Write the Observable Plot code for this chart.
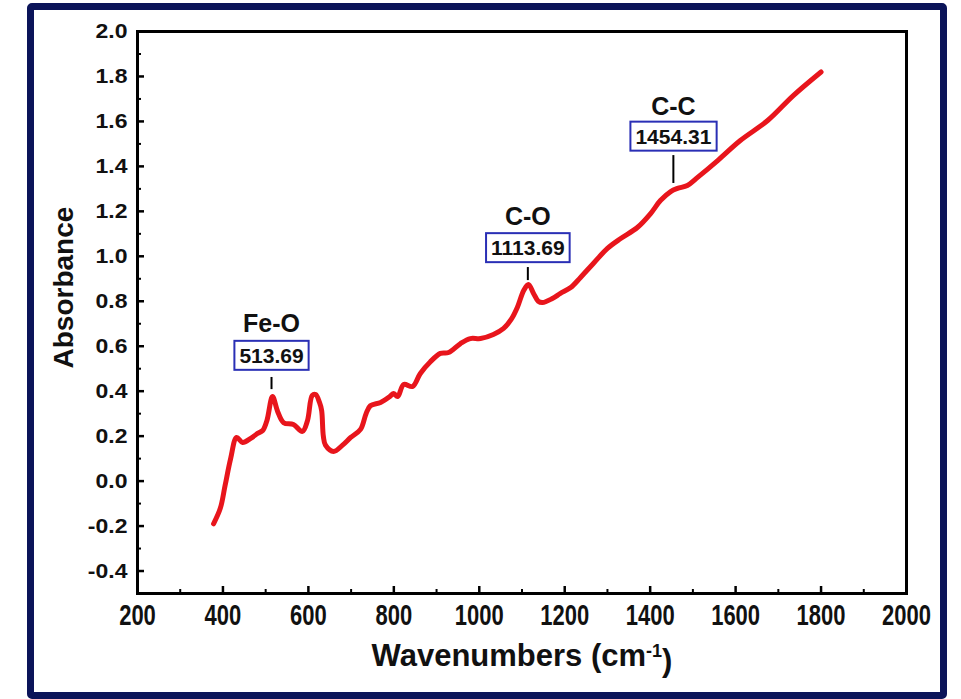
<!DOCTYPE html>
<html><head><meta charset="utf-8">
<script src="https://cdn.jsdelivr.net/npm/d3@7"></script>
<script src="https://cdn.jsdelivr.net/npm/@observablehq/plot@0.6"></script>
<style>
body{margin:0;background:#fff;}
#wrap{position:relative;width:961px;height:699px;overflow:hidden;}
#chart{position:absolute;left:0;top:0;width:961px;}
#border{position:absolute;left:27px;top:3px;width:920px;height:696px;box-sizing:border-box;border:7px solid #0b1459;border-radius:5px;pointer-events:none;}
</style></head><body>
<div id="wrap"><div id="chart"></div><div id="border"></div></div>
<script>
// Spectrum values
const wavenumber = [378,394,405,418,432,446,465,481,493,503,516,528,542,565,586,598,609,617,626,631,635,640,659,680,699,722,735,745,769,790,799,809,823,844,862,885,909,928,956,979,1003,1033,1057,1075,1089,1104,1115,1127,1138,1148,1171,1190,1214,1237,1267,1300,1331,1370,1401,1424,1448,1464,1487,1511,1558,1611,1675,1735,1800];
const absorbance = [-0.19,-0.12,-0.02,0.10,0.194,0.172,0.19,0.212,0.225,0.27,0.376,0.31,0.26,0.252,0.221,0.27,0.381,0.385,0.35,0.314,0.20,0.16,0.132,0.16,0.194,0.23,0.30,0.335,0.350,0.375,0.390,0.376,0.430,0.421,0.479,0.53,0.568,0.572,0.612,0.634,0.634,0.652,0.679,0.72,0.772,0.848,0.875,0.835,0.80,0.794,0.812,0.835,0.861,0.906,0.968,1.035,1.079,1.128,1.190,1.248,1.288,1.302,1.315,1.351,1.426,1.515,1.604,1.715,1.82];

// Axis ticks
const yMajor = [-0.4,-0.2,0.0,0.2,0.4,0.6,0.8,1.0,1.2,1.4,1.6,1.8,2.0];
const yMinor = [-0.3,-0.1,0.1,0.3,0.5,0.7,0.9,1.1,1.3,1.5,1.7,1.9];
const xLabels = [200,400,600,800,1000,1200,1400,1600,1800,2000];
const xMajorTicks = [400,600,800,1000,1200,1400,1600,1800];
const xMinor = [300,500,700,900,1100,1300,1500,1700,1900];

// Peak annotations
const peakName = ["Fe-O","C-O","C-C"];
const peakValue = ["513.69","1113.69","1454.31"];
const peakX = [513.69,1113.69,1454.31];
const tickLow = [0.407,0.892,1.324];
const tickHigh = [0.461,0.950,1.448];
const boxY = [0.556,1.035,1.531];
const nameY = [0.701,1.173,1.666];

const W = 961, H = 699, mL = 137, mR = 55, mT = 31, mB = 106;
const pw = W - mL - mR, ph = H - mT - mB;

const spectrum = wavenumber.map((x, i) => ({x, y: absorbance[i]}));
const peaks = peakName.map((n, i) => ({name: n, value: peakValue[i], x: peakX[i], lo: tickLow[i], hi: tickHigh[i], by: boxY[i], ny: nameY[i]}));

const plot = Plot.plot({
  width: W, height: H,
  marginLeft: mL, marginRight: mR, marginTop: mT, marginBottom: mB,
  style: {fontFamily: "'Liberation Sans', Arial, sans-serif", fontWeight: "bold", color: "#111", background: "transparent"},
  x: {domain: [200, 2000]},
  y: {domain: [-0.5, 2.0]},
  marks: [
    Plot.line(spectrum, {x: "x", y: "y", stroke: "#e8151c", strokeWidth: 5, strokeLinejoin: "round", strokeLinecap: "round", curve: "catmull-rom"}),
    Plot.tickY(yMajor, {y: d => d, insetRight: pw - 7, stroke: "#000", strokeWidth: 2.5}),
    Plot.tickY(yMinor, {y: d => d, insetRight: pw - 4, stroke: "#000", strokeWidth: 2}),
    Plot.tickX(xMajorTicks, {x: d => d, insetTop: ph - 7, stroke: "#000", strokeWidth: 2.5}),
    Plot.tickX(xMinor, {x: d => d, insetTop: ph - 4, stroke: "#000", strokeWidth: 2}),
    Plot.frame({stroke: "#000", strokeWidth: 3}),
    Plot.axisY({ticks: yMajor, tickSize: 0, tickPadding: 10, tickFormat: d => d.toFixed(1), fontSize: 23, label: null, className: "yticks"}),
    Plot.axisX({ticks: xLabels, tickSize: 0, tickPadding: 10, tickFormat: d => String(d), fontSize: 22, label: null, className: "xticks"}),
    Plot.ruleX(peaks, {x: "x", y1: "lo", y2: "hi", stroke: "#000", strokeWidth: 2}),
    Plot.text(peaks, {x: "x", y: "by", text: "value", fontSize: 21, fill: "#111", className: "peakval"}),
    Plot.text(peaks, {x: "x", y: "ny", text: "name", fontSize: 25, fill: "#111"}),
    Plot.text(["Absorbance"], {text: d => d, frameAnchor: "left", textAnchor: "start", dx: -73, dy: 56, rotate: -90, fontSize: 28, fill: "#111"}),
    Plot.text(["Wavenumbers (cm-1)"], {text: d => d, frameAnchor: "bottom", dy: 72, fontSize: 31, fill: "#111", className: "xtitle"})
  ]
});
document.getElementById("chart").append(plot);

const svg = d3.select(plot);
// boxes around peak values
svg.selectAll(".peakval text").each(function() {
  const b = this.getBBox();
  d3.select(this.parentNode).insert("rect", ":first-child")
    .attr("transform", this.getAttribute("transform"))
    .attr("x", b.x - 5).attr("y", b.y - 3)
    .attr("width", b.width + 10).attr("height", b.height + 6)
    .attr("fill", "#fff").attr("stroke", "#2a2fb5").attr("stroke-width", 2);
});
// stretch x tick labels vertically, flatten y tick labels slightly
svg.selectAll(".xticks text").each(function() {
  this.setAttribute("transform", (this.getAttribute("transform") || "") + " scale(1,1.35)");
});
svg.selectAll(".yticks text").each(function() {
  this.setAttribute("transform", (this.getAttribute("transform") || "") + " scale(1,0.9)");
});
// superscript in x title
svg.selectAll(".xtitle text").each(function() {
  const t = d3.select(this);
  t.text(null);
  t.append("tspan").text("Wavenumbers (cm");
  t.append("tspan").attr("dy", "-0.45em").attr("font-size", "18").text("-1");
  t.append("tspan").attr("dy", "0.45em").text(")");
});
</script>
</body></html>
